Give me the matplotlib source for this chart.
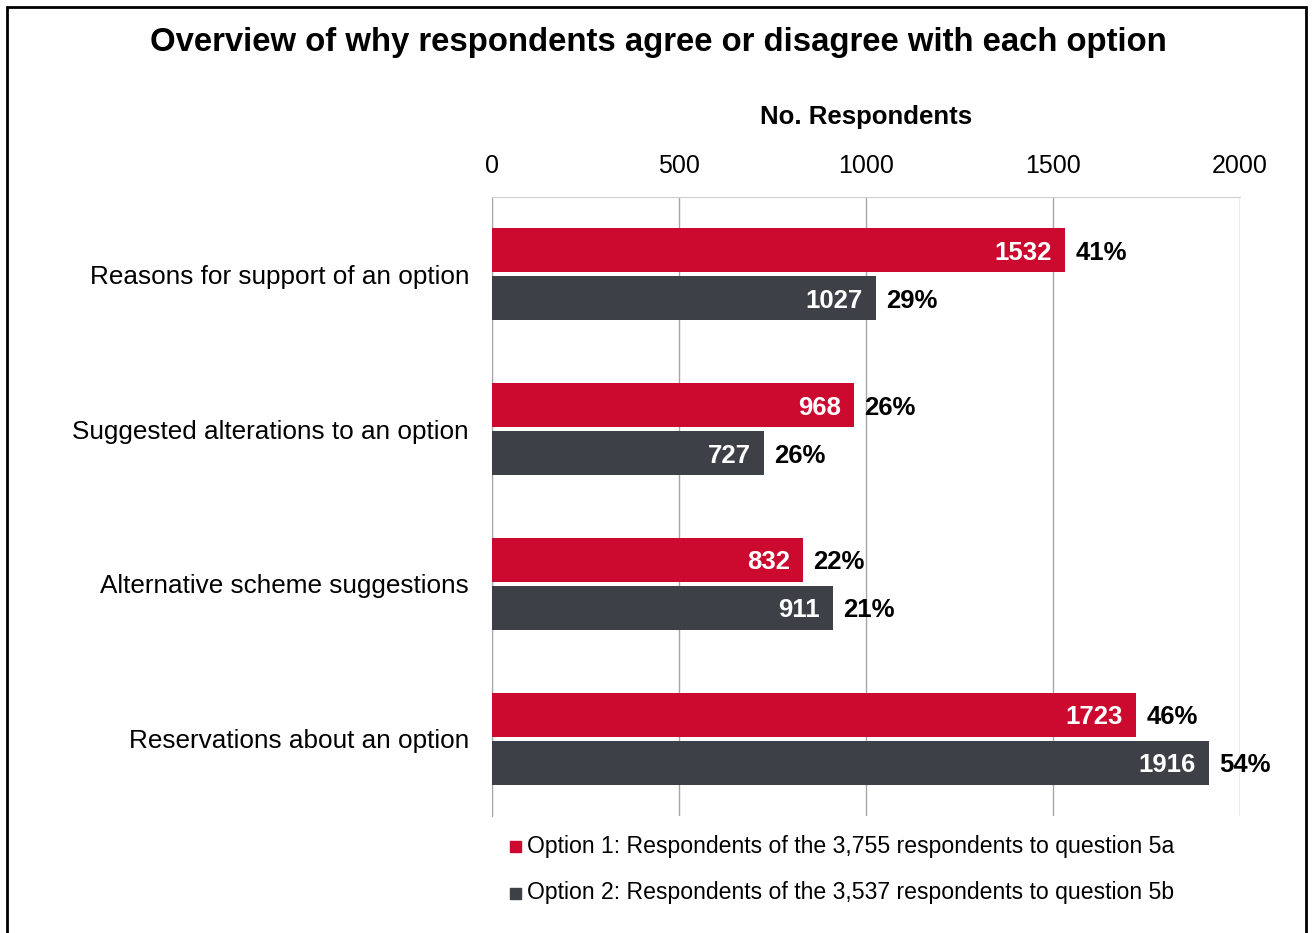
import matplotlib.pyplot as plt
import numpy as np
from matplotlib.patches import Rectangle

plt.rcParams["font.family"] = ["Liberation Sans", "DejaVu Sans"]

# Response themes and counts per option
categories = [
    "Reasons for support of an option",
    "Suggested alterations to an option",
    "Alternative scheme suggestions",
    "Reservations about an option",
]
option1 = [1532, 968, 832, 1723]
option2 = [1027, 727, 911, 1916]
option1_pct = ["41%", "26%", "22%", "46%"]
option2_pct = ["29%", "26%", "21%", "54%"]

legend_labels = [
    "Option 1: Respondents of the 3,755 respondents to question 5a",
    "Option 2: Respondents of the 3,537 respondents to question 5b",
]

red = "#CC0A2F"
grey = "#3D4047"

W, H = 1313, 933
fig = plt.figure(figsize=(W / 100, H / 100), dpi=100)
ax = fig.add_axes([492 / W, 1 - 816 / H, (1240 - 492) / W, (816 - 197) / H])

y = np.arange(len(categories))
h = 0.285
off = 0.155

b1 = ax.barh(y - off, option1, height=h, color=red, zorder=3)
b2 = ax.barh(y + off, option2, height=h, color=grey, zorder=3)

for bars, vals, pcts in [(b1, option1, option1_pct), (b2, option2, option2_pct)]:
    for rect, v, p in zip(bars, vals, pcts):
        cy = rect.get_y() + rect.get_height() / 2
        ax.annotate(str(v), (v, cy), xytext=(-9.5, 0), textcoords="offset points",
                    ha="right", va="center_baseline", color="white", fontsize=18.5,
                    fontweight="bold", zorder=4)
        ax.annotate(p, (v, cy), xytext=(7.5, 0), textcoords="offset points",
                    ha="left", va="center_baseline", color="black", fontsize=18.5,
                    fontweight="bold", zorder=4)

ax.set_xlim(0, 2000)
ax.set_ylim(3.5, -0.5)
ax.set_xticks([0, 500, 1000, 1500, 2000])
ax.xaxis.tick_top()
ax.xaxis.set_label_position("top")
ax.set_xlabel("No. Respondents", fontsize=18.5, fontweight="bold", labelpad=21)
ax.tick_params(axis="x", length=0, labelsize=18, pad=14)
ax.set_yticks(y)
ax.set_yticklabels(categories, fontsize=18.8)
ax.tick_params(axis="y", length=0, pad=16.5)
ax.grid(axis="x", color="#A6A6A6", linewidth=1, zorder=0)
for s in ["right", "bottom"]:
    ax.spines[s].set_visible(False)
ax.spines["top"].set_color("#D0D0D0")
ax.spines["left"].set_color("#A6A6A6")

fig.text(658 / W, 1 - 42 / H,
         "Overview of why respondents agree or disagree with each option",
         ha="center", va="center", fontsize=23.7, fontweight="bold")

# Legend drawn as square markers with text
for i, (lab, col) in enumerate(zip(legend_labels, [red, grey])):
    ly = 1 - (846 + 47 * i) / H
    fig.patches.append(Rectangle((510 / W, ly - 5.5 / H), 11 / W, 11 / H,
                                 transform=fig.transFigure, color=col))
    fig.text(527 / W, ly, lab, ha="left", va="center", fontsize=16.6)

# Outer frame
fig.patches.append(Rectangle((7 / W, -0.05), (1306 - 7) / W, 1.05 - 7 / H,
                             transform=fig.transFigure, fill=False,
                             edgecolor="black", linewidth=2))

fig.savefig("out.png", dpi=100)
